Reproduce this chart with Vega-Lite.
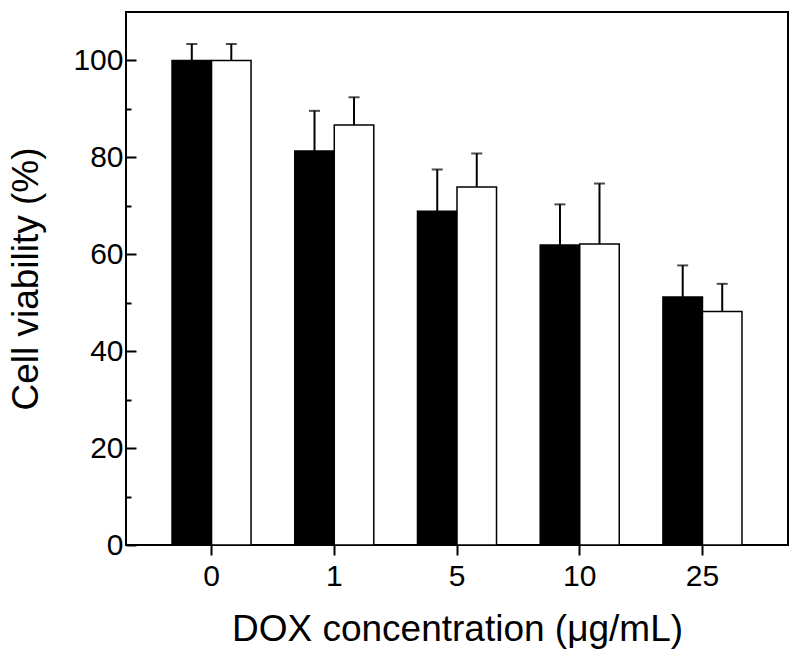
{
  "$schema": "https://vega.github.io/schema/vega-lite/v6.json",
  "width": 662,
  "height": 533,
  "autosize": {"type": "none"},
  "padding": {"left": 126, "top": 12, "right": 12, "bottom": 112},
  "background": "white",
  "config": {
    "font": "Liberation Sans",
    "view": {"stroke": "black", "strokeWidth": 2},
    "axis": {
      "domain": false,
      "grid": false,
      "tickColor": "black",
      "tickWidth": 2,
      "labelColor": "black",
      "titleColor": "black",
      "labelFontSize": 30,
      "titleFontSize": 37,
      "labelFont": "Liberation Sans",
      "titleFont": "Liberation Sans",
      "titleFontWeight": "normal"
    }
  },
  "data": {
    "values": [
      {"conc": "0", "series": "A", "viability": 100, "upper": 103.4},
      {"conc": "0", "series": "B", "viability": 100, "upper": 103.4},
      {"conc": "1", "series": "A", "viability": 81.3, "upper": 89.6},
      {"conc": "1", "series": "B", "viability": 86.7, "upper": 92.4},
      {"conc": "5", "series": "A", "viability": 68.9, "upper": 77.5},
      {"conc": "5", "series": "B", "viability": 73.9, "upper": 80.8},
      {"conc": "10", "series": "A", "viability": 61.9, "upper": 70.3},
      {"conc": "10", "series": "B", "viability": 62.1, "upper": 74.6},
      {"conc": "25", "series": "A", "viability": 51.2, "upper": 57.7},
      {"conc": "25", "series": "B", "viability": 48.2, "upper": 53.9}
    ]
  },
  "encoding": {
    "x": {
      "field": "conc",
      "type": "nominal",
      "sort": ["0", "1", "5", "10", "25"],
      "scale": {"paddingInner": 0.356, "paddingOuter": 0.375},
      "axis": {
        "title": "DOX concentration (μg/mL)",
        "labelAngle": 0,
        "labelFontSize": 30,
        "titleFontSize": 37,
        "tickSize": 10,
        "labelPadding": 6,
        "titleY": 95,
        "titleBaseline": "alphabetic"
      }
    },
    "xOffset": {
      "field": "series",
      "type": "nominal",
      "scale": {"paddingInner": 0, "paddingOuter": 0}
    }
  },
  "layer": [
    {
      "mark": {"type": "bar", "stroke": "black", "strokeWidth": 1.5},
      "encoding": {
        "y": {
          "field": "viability",
          "type": "quantitative",
          "scale": {"domain": [0, 110], "nice": false, "zero": true},
          "axis": {
            "orient": "left",
            "title": "Cell viability (%)",
            "values": [0, 20, 40, 60, 80, 100],
            "labelFontSize": 30,
            "titleFontSize": 37,
            "tickSize": -10,
            "labelPadding": 13,
            "titleX": -89,
            "titleY": 266.5,
            "titleAngle": -90,
            "titleAlign": "center",
            "titleBaseline": "alphabetic"
          }
        },
        "fill": {
          "field": "series",
          "type": "nominal",
          "scale": {"domain": ["A", "B"], "range": ["black", "white"]},
          "legend": null
        }
      }
    },
    {
      "mark": {"type": "rule", "color": "black", "strokeWidth": 2},
      "encoding": {
        "y": {
          "field": "viability",
          "type": "quantitative",
          "axis": {
            "orient": "left",
            "title": null,
            "values": [10, 30, 50, 70, 90],
            "labels": false,
            "tickSize": -5
          }
        },
        "y2": {"field": "upper"}
      }
    },
    {
      "mark": {"type": "tick", "color": "black", "thickness": 2, "size": 11},
      "encoding": {
        "y": {"field": "upper", "type": "quantitative", "axis": null}
      }
    }
  ],
  "resolve": {"axis": {"y": "independent"}}
}
